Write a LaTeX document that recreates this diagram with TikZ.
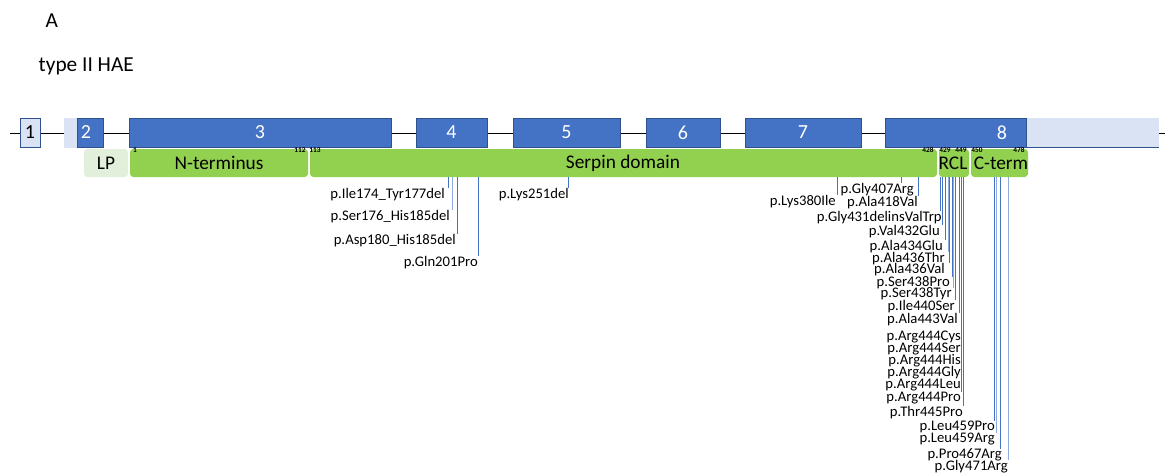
\documentclass[tikz,border=0pt]{standalone}
\usepackage{fontspec}
\setmainfont{Carlito}
\usepackage{tikz}

\definecolor{exonblue}{HTML}{4472C4}
\definecolor{exonlight}{HTML}{DAE3F3}
\definecolor{exonedge}{HTML}{2F528F}
\definecolor{domgreen}{HTML}{92D050}
\definecolor{domlight}{HTML}{E2EFDA}
\definecolor{mutblue}{HTML}{4472C4}
\definecolor{mutlight}{HTML}{8FAADC}

\begin{document}
\begin{tikzpicture}[x=0.75pt, y=-0.75pt,
	exon/.style = {draw=exonedge, fill=exonblue, line width=0.5pt},
	exonnum/.style = {text=white, font=\fontsize{15}{18}\selectfont},
	dombox/.style = {fill=domgreen, rounded corners=2.5pt},
	domlabel/.style = {font=\fontsize{14.5}{17}\selectfont},
	resnum/.style = {font=\fontsize{5.5}{6}\selectfont\bfseries, inner sep=0pt},
	mutlabel/.style = {font=\fontsize{11}{13}\selectfont, inner sep=0pt, anchor=east},
	mutline/.style = {line width=0.6pt}]

\useasboundingbox (0,0) rectangle (1165,475);

% titles
	\node[anchor=west, font=\fontsize{16}{19}\selectfont] (panel) at (41,21) {A};
	\node[anchor=west, font=\fontsize{16}{19}\selectfont] (hae) at (34,66) {type II HAE};

% gene line and exons
	\draw[line width=0.6pt] (10,133) -- (1165,133);
	\draw[exon, fill=exonlight] (20,118) rectangle (40,147);
	\node[exonnum, text=black] (ex1) at (30,132.5) {1};
	\draw[exon, fill=exonlight, draw=exonlight] (64,118) rectangle (77,147);
	\draw[exon] (77,118) rectangle (103,147);
	\node[exonnum] (ex2) at (86,132.5) {2};
	\foreach \a/\b/\n in {129/391/3, 416/487/4, 513/620/5, 646/720/6, 745/861/7} {
		\draw[exon] (\a,118) rectangle (\b,147);
		\node[exonnum] (ex\n) at ({(\a+\b)/2},132.5) {\n};
	}
	\fill[exonlight] (1026,118) rectangle (1159,147);
	\draw[exonedge, line width=0.5pt] (1026,147) -- (1159,147);
	\draw[exon] (885,118) rectangle (1026,147);
	\node[exonnum] (ex8) at (1002,132.5) {8};

% protein domains
	\fill[dombox, fill=domlight] (84,149) rectangle (128,177);
	\node[domlabel] (lp) at (106,163) {LP};
	\fill[dombox] (130,149) rectangle (308,177);
	\node[domlabel] (nterm) at (219,163) {N-terminus};
	\fill[dombox] (310,149) rectangle (937,177);
	\node[domlabel] (serpin) at (623,163) {Serpin domain};
	\fill[dombox] (939,149) rectangle (969,177);
	\fill[dombox] (971,149) rectangle (1028,177);
	\node[domlabel] (rcl) at (953,163) {RCL};
	\node[domlabel] (cterm) at (1001,163) {C-term};

% residue numbers
	\foreach \x/\r in {135/1, 300/112, 315/113, 928/428, 945/429, 961/449, 977/450, 1019/478}
		\node[resnum] (res\r) at (\x,150) {\r};

% mutations: line x / text right / text y / color / label
	\foreach \lx/\tx/\ty/\c/\txt [count=\i] in {
		448/445/195/mutblue/p.Ile174\_Tyr177del,
		452/450/217/mutlight/p.Ser176\_His185del,
		457/456/241/mutblue/p.Asp180\_His185del,
		478/478/263/mutblue/p.Gln201Pro,
		568/569/195/mutblue/p.Lys251del,
		837/836/202/mutblue/p.Lys380Ile,
		901/914/190/mutblue/p.Gly407Arg,
		918/918/203/mutblue/p.Ala418Val,
		940/942/218/mutblue/p.Gly431delinsValTrp,
		942/940/232/mutblue/p.Val432Glu,
		945/943/247/mutblue/p.Ala434Glu,
		948/945/259/mutlight/p.Ala436Thr,
		949/945/270/mutblue/p.Ala436Val,
		952/950/283/mutblue/p.Ser438Pro,
		953/952/294/mutlight/p.Ser438Tyr,
		955/955/307/mutblue/p.Ile440Ser,
		959/958/320/mutblue/p.Ala443Val,
		961/961/337/mutblue/p.Arg444Cys,
		961/961/349/mutblue/p.Arg444Ser,
		961/961/361/mutblue/p.Arg444His,
		961/961/373/mutblue/p.Arg444Gly,
		961/961/385/mutblue/p.Arg444Leu,
		961/961/398/mutblue/p.Arg444Pro,
		963/963/413/mutblue/p.Thr445Pro,
		994/995/427/mutblue/p.Leu459Pro,
		996/995/439/mutlight/p.Leu459Arg,
		1000/1002/455/mutblue/p.Pro467Arg,
		1008/1008/467/mutlight/p.Gly471Arg} {
		\coordinate (site-\i) at (\lx,177);
		\node[mutlabel] (mut-\i) at (\tx,\ty) {\txt};
		\draw[mutline, draw=\c] (site-\i) -- (site-\i |- mut-\i.north);
	}
\end{tikzpicture}
\end{document}
